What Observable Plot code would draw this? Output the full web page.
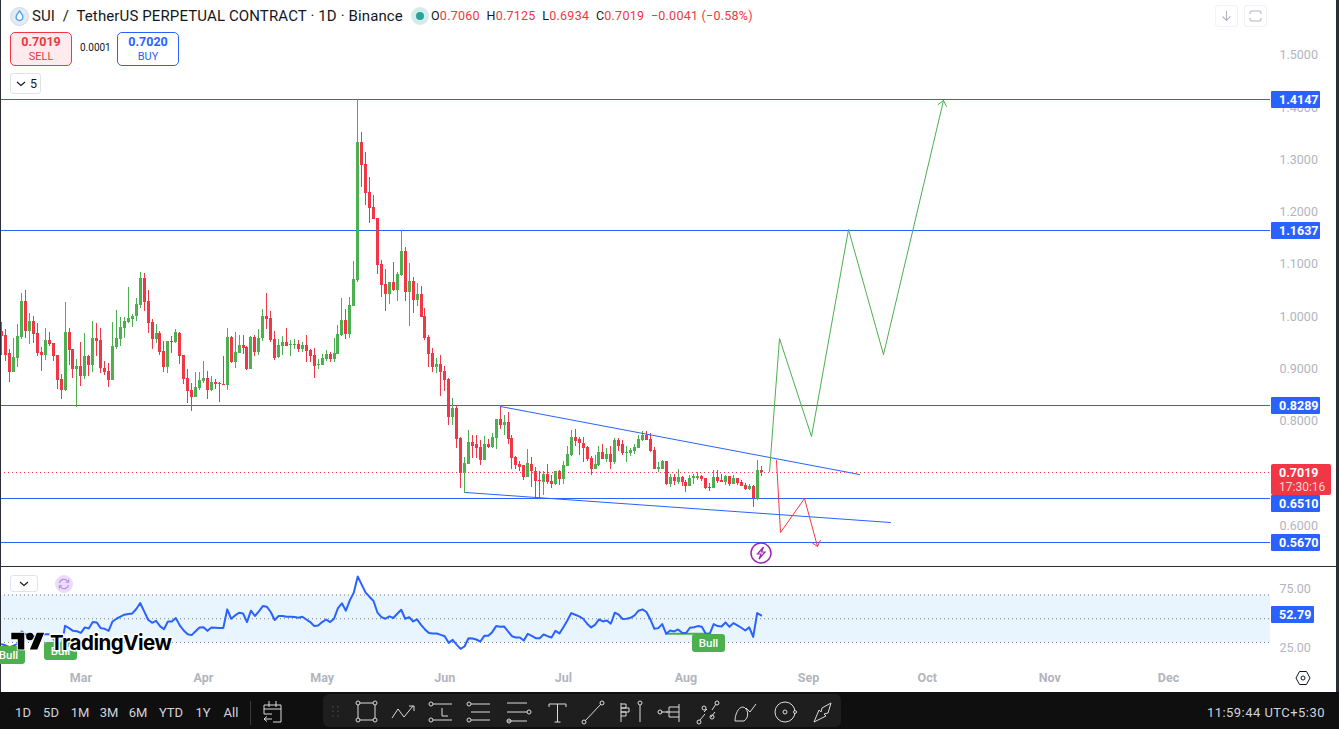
<!DOCTYPE html>
<html><head><meta charset="utf-8">
<script src="https://cdn.jsdelivr.net/npm/d3@7"></script>
<script src="https://cdn.jsdelivr.net/npm/@observablehq/plot@0.6"></script>
<style>
html,body{margin:0;padding:0;background:#fff;}
#app{position:relative;width:1339px;height:729px;overflow:hidden;font-family:Roboto,sans-serif;color:#131722;}
#app>svg,#app .abs{position:absolute;}
.abs{white-space:nowrap;line-height:1;}
.tag{color:#fff;font-weight:700;font-size:12.5px;text-align:left;padding-left:8px;box-sizing:border-box;border-radius:1px;}
.bull{background:#4caf50;color:#fff;border-radius:3px;font-size:11.5px;font-weight:500;text-align:center;}
</style></head><body><div id="app"></div>
<script>
const opens=[.971,.963,.928,.892,.919,.959,1.028,.970,.991,.967,.930,.926,.953,.948,.925,.879,.858,.969,.936,.898,.904,.884,.923,.905,.957,.953,.900,.894,.877,.940,.955,.976,.988,.993,.999,1.020,1.072,1.028,.988,.955,.967,.932,.902,.951,.949,.967,.925,.881,.858,.844,.861,.875,.881,.858,.873,.871,.870,.867,.959,.911,.928,.944,.940,.898,.959,.930,.957,.999,.996,.955,.921,.942,.950,.944,.944,.946,.936,.944,.934,.925,.906,.906,.917,.927,.917,.927,.963,.992,.965,1.018,1.068,1.332,1.290,1.236,1.208,1.187,1.099,1.061,1.041,1.064,1.049,1.078,1.124,1.045,1.066,1.030,1.041,.999,.959,.929,.902,.908,.894,.879,.806,.823,.766,.699,.716,.758,.754,.749,.724,.754,.749,.766,.802,.791,.796,.766,.730,.716,.714,.691,.716,.703,.686,.682,.697,.684,.678,.703,.687,.712,.733,.768,.764,.756,.749,.728,.708,.714,.739,.726,.735,.720,.762,.754,.737,.737,.741,.747,.762,.773,.764,.743,.708,.708,.722,.678,.691,.682,.691,.682,.674,.689,.689,.693,.689,.672,.670,.691,.686,.682,.693,.678,.689,.682,.676,.668,.674,.649,.7060];
const highs=[.988,.974,.936,.957,.984,1.043,1.049,1.005,.999,.986,.940,.976,.969,.948,.926,.888,1.026,.976,.936,.917,.949,.967,.926,.991,.986,.976,.913,.909,.988,1.011,.997,.997,1.055,1.003,1.034,1.083,1.081,1.049,.993,.984,.970,.951,.951,.961,.974,.969,.925,.898,.871,.892,.892,.913,.894,.884,.879,.873,.923,.976,.961,.969,.963,.963,.942,.961,.963,.974,1.013,1.043,1.009,.971,.955,.961,.976,.953,.955,.953,.950,.963,.936,.938,.917,.927,.934,.930,.957,.982,1.034,1.013,1.036,1.104,1.4147,1.351,1.313,1.265,1.231,1.187,1.106,1.089,1.064,1.102,1.083,1.1637,1.131,1.101,1.074,1.062,1.057,1.015,.963,.938,.919,.925,.904,.881,.843,.829,.768,.730,.781,.773,.772,.762,.770,.764,.775,.802,.829,.810,.817,.772,.731,.722,.714,.745,.730,.710,.703,.703,.716,.695,.703,.705,.722,.752,.781,.783,.768,.768,.752,.731,.733,.752,.754,.747,.751,.766,.766,.762,.751,.747,.754,.773,.779,.779,.775,.749,.720,.724,.722,.697,.697,.707,.693,.686,.695,.697,.701,.695,.689,.680,.705,.705,.697,.695,.693,.695,.689,.686,.680,.678,.676,.724,.7125];
const lows=[.925,.913,.873,.892,.902,.955,.957,.946,.948,.923,.894,.915,.942,.913,.860,.840,.856,.905,.881,.825,.865,.879,.884,.892,.923,.890,.886,.863,.877,.936,.942,.957,.986,.978,.991,1.014,1.009,.967,.936,.948,.925,.892,.890,.928,.948,.907,.869,.833,.818,.844,.858,.872,.840,.856,.860,.835,.867,.858,.909,.900,.928,.927,.896,.898,.923,.925,.951,.974,.950,.915,.919,.925,.942,.923,.936,.930,.930,.911,.911,.881,.898,.906,.913,.911,.911,.927,.961,.955,.957,1.018,1.064,1.246,1.211,1.177,1.185,1.080,1.036,1.009,1.022,1.047,1.028,1.076,1.028,.980,1.005,1.018,.997,.953,.902,.892,.890,.846,.856,.791,.791,.747,.670,.661,.716,.728,.728,.714,.724,.747,.747,.745,.783,.772,.754,.707,.707,.703,.686,.691,.672,.651,.649,.657,.678,.670,.676,.676,.678,.712,.731,.752,.733,.720,.722,.695,.708,.712,.726,.720,.707,.716,.741,.733,.720,.731,.735,.747,.760,.762,.739,.707,.701,.708,.676,.672,.676,.678,.674,.663,.674,.678,.686,.684,.668,.665,.670,.680,.682,.676,.674,.678,.676,.674,.666,.666,.634,.647,.6934];
const closes=[.961,.926,.892,.921,.961,1.028,.970,.991,.965,.928,.926,.953,.946,.923,.877,.858,.969,.934,.898,.904,.884,.923,.905,.957,.951,.900,.892,.877,.942,.957,.978,.990,.995,.999,1.022,1.072,1.026,.986,.955,.967,.930,.902,.951,.949,.969,.923,.879,.856,.844,.863,.877,.881,.858,.873,.869,.869,.868,.959,.911,.930,.944,.939,.898,.959,.930,.957,.999,.994,.953,.919,.944,.950,.942,.946,.946,.936,.944,.932,.923,.904,.908,.919,.927,.917,.929,.965,.992,.965,1.020,1.070,1.332,1.288,1.234,1.206,1.185,1.097,1.059,1.041,1.064,1.049,1.080,1.124,1.045,1.066,1.030,1.041,.997,.957,.927,.902,.908,.892,.877,.806,.823,.764,.699,.718,.758,.752,.747,.724,.754,.749,.768,.802,.791,.796,.764,.728,.714,.710,.691,.718,.703,.684,.684,.697,.682,.678,.703,.687,.714,.735,.768,.760,.756,.747,.726,.708,.716,.739,.726,.735,.720,.762,.752,.737,.739,.743,.749,.764,.772,.762,.741,.708,.710,.722,.678,.691,.684,.691,.682,.674,.689,.693,.693,.687,.670,.670,.691,.684,.682,.693,.678,.689,.680,.674,.668,.674,.651,.706,.7019];
const rsiValues=[28.5,27.4,26,27.4,28.8,39.3,37,36.4,35.3,34.7,35.9,37,37,33.6,27.4,24.6,44.1,42.1,39.8,39.5,38.1,42.7,41.8,47.2,46.9,42.1,41.5,39.8,47.7,50,51.7,53.4,54,54.5,58.2,63.3,56.2,49.2,46.6,48.3,43.8,41.2,47.7,47.7,50.6,44.4,40.1,37,36.2,39.5,42.7,42.9,39.8,42.7,42.4,42.1,42.1,57.9,50,52.8,55.1,54.5,47.2,56.8,52.3,56.2,60.7,60.2,55.7,48.9,52.3,52.3,51.7,51.7,51.4,50.8,51.7,49.4,47.2,43.8,44.4,47.2,49.4,47.2,50,59,63,56.8,65.5,72,85.6,78.8,72,68.4,65,55.1,51.4,50,52,50.6,54.2,57.6,50,51.4,47.7,49.4,44.9,41,37.9,37.6,37.6,36.4,35.3,29.7,32.2,28.2,24.6,26.6,33.6,33.3,32.5,30.8,35.6,35.6,38.7,43.8,43.2,43.5,39.3,35.3,34.2,34.2,31.6,37.3,35.6,33.6,33.6,36.7,35.3,34.2,39.8,37.6,42.9,48.6,54.8,53.4,52,50,45.8,42.7,44.9,49.4,47.7,48.6,45.8,55.1,53.4,49.7,50,50.8,52.8,56.8,57.9,55.7,49.4,41.5,42.1,45.5,37.3,40.1,39.3,41,38.1,37.9,42.4,42.9,43.8,43.2,37.3,37.3,45.5,43.8,43.5,46.9,43.2,46.3,44.4,42.4,40.1,42.7,34.7,54.8,52.79];
const levels=[1.4147,1.1637,.8289,.651,.567];
const priceTicks=[1.5,1.4,1.3,1.2,1.1,1.0,.9,.8,.7,.6];
const rsiTicks=[25,75];
const rsiGuides=[30,50,70];
const monthStarts=["2024-03-01","2024-04-01","2024-05-01","2024-06-01","2024-07-01","2024-08-01","2024-09-01","2024-10-01","2024-11-01","2024-12-01"].map(s=>new Date(s));
const firstDay=new Date("2024-02-10");
const dayAt=i=>new Date(+firstDay+i*864e5);
const visibleDays=[-0.329,320.8];
// drawn studies: [day index, price]
const channelTop=[[126.1,.827],[216.9,.697]];
const channelBottom=[[117.2,.6625],[224.7,.605]];
const greenPath=[[194,.7027],[196.6,.957],[204.7,.7696],[214.1,1.1654],[223,.9264],[238.1,1.412]];
const redPath=[[195.9,.7237],[196.9,.586],[203,.651],[206.2,.5593]];
const divergence=[[168,37.3],[179,37.3]];

const UP="#4caf50",DOWN="#f23645",BLUE="#2962ff",GREY="#b2b5be";
const candles=opens.map((o,i)=>({date:dayAt(i),open:o,high:highs[i],low:lows[i],close:closes[i]}));
const ups=candles.filter(d=>d.close>=d.open),downs=candles.filter(d=>d.close<d.open);
const pts=a=>a.map(([i,v])=>({date:dayAt(i),v}));
const xScale={type:"utc",domain:visibleDays.map(dayAt),range:[0,1270]};
const [xStart,xEnd]=visibleDays.map(dayAt);
const app=document.getElementById("app");
const fontStyle={fontFamily:"Roboto,sans-serif",fontSize:"12.5px",background:"transparent"};

const chart=Plot.plot({
  width:1339,height:566,marginLeft:0,marginRight:69,marginTop:0,marginBottom:0,
  style:fontStyle,
  x:{...xScale,axis:null,round:true},
  y:{domain:[.6,1.5],range:[525,54.3],label:null,round:true},
  marks:[
    Plot.axisY(priceTicks,{anchor:"right",tickSize:0,tickPadding:9,tickFormat:d3.format(".4f"),color:GREY,label:null}),
    Plot.ruleY([closes[closes.length-1]],{x1:xStart,x2:xEnd,stroke:DOWN,strokeWidth:1,strokeDasharray:"1 3"}),
    Plot.ruleY(levels,{x1:xStart,x2:xEnd,stroke:BLUE,strokeWidth:1}),
    Plot.ruleX(ups,{x:"date",y1:"low",y2:"high",stroke:UP,strokeWidth:1}),
    Plot.ruleX(downs,{x:"date",y1:"low",y2:"high",stroke:DOWN,strokeWidth:1}),
    Plot.ruleX(ups,{x:"date",y1:"open",y2:"close",stroke:UP,strokeWidth:3}),
    Plot.ruleX(downs,{x:"date",y1:"open",y2:"close",stroke:DOWN,strokeWidth:3}),
    Plot.line(pts(channelTop),{x:"date",y:"v",stroke:BLUE,strokeWidth:1}),
    Plot.line(pts(channelBottom),{x:"date",y:"v",stroke:BLUE,strokeWidth:1}),
    Plot.line(pts(greenPath.slice(0,-1)),{x:"date",y:"v",stroke:UP,strokeWidth:1}),
    Plot.line(pts(redPath.slice(0,-1)),{x:"date",y:"v",stroke:DOWN,strokeWidth:1}),
    Plot.arrow([pts(greenPath.slice(-2))],{x1:d=>d[0].date,y1:d=>d[0].v,x2:d=>d[1].date,y2:d=>d[1].v,stroke:UP,strokeWidth:1,headLength:10,headAngle:80,bend:false}),
    Plot.arrow([pts(redPath.slice(-2))],{x1:d=>d[0].date,y1:d=>d[0].v,x2:d=>d[1].date,y2:d=>d[1].v,stroke:DOWN,strokeWidth:1,headLength:10,headAngle:80,bend:false})
  ]
});
chart.style.left="0";chart.style.top="0";
app.append(chart);

const rsiPane=Plot.plot({
  width:1339,height:125,marginLeft:0,marginRight:69,marginTop:0,marginBottom:24,
  style:fontStyle,
  x:xScale,
  y:{domain:[25,75],range:[80.9,21.6],label:null},
  marks:[
    Plot.rect([rsiGuides],{y1:30,y2:70,x1:xStart,x2:xEnd,fill:"#2196f3",fillOpacity:.1}),
    Plot.ruleY(rsiGuides,{x1:xStart,x2:xEnd,stroke:"#787b86",strokeWidth:1,strokeDasharray:"1 3"}),
    Plot.axisY(rsiTicks,{anchor:"right",tickSize:0,tickPadding:9,tickFormat:d3.format(".2f"),color:GREY,label:null}),
    Plot.axisX(monthStarts,{anchor:"bottom",tickSize:0,tickPadding:5,tickFormat:d3.utcFormat("%b"),color:GREY,label:null,fontWeight:700}),
    Plot.line(pts(divergence),{x:"date",y:"v",stroke:UP,strokeWidth:2}),
    Plot.line(rsiValues.map((v,i)=>({date:dayAt(i),v})),{x:"date",y:"v",stroke:BLUE,strokeWidth:2,curve:"linear"})
  ]
});
rsiPane.style.left="0";rsiPane.style.top="567px";
app.append(rsiPane);

function el(html){const t=document.createElement("div");t.innerHTML=html;const e=t.firstElementChild;app.append(e);return e;}
function box(x,y,w,h,css,inner=""){return el(`<div class="abs" style="left:${x}px;top:${y}px;width:${w}px;height:${h}px;${css}">${inner}</div>`);}
function txt(x,cy,s,css=""){return el(`<div class="abs" style="left:${x}px;top:${cy}px;transform:translateY(-50%);${css}">${s}</div>`);}

// price tags on the scales (the last-price tag pushes the next level tag below it)
const py=chart.scale("y"),ry=rsiPane.scale("y"),px=chart.scale("x");
const fmt4=d3.format(".4f");
const last=closes[closes.length-1];
const lastTagTop=py.apply(last)-8,lastTagBottom=lastTagTop+31;
levels.forEach(v=>{const top=Math.max(py.apply(v)-8.5,(v<last&&py.apply(v)-8.5<lastTagBottom)?lastTagBottom:-1);
  box(1271,top,49,17,`background:${BLUE};border-radius:1px;`,`<div class="tag" style="line-height:17px">${fmt4(v)}</div>`);});
box(1271,lastTagTop,60,31,`background:${DOWN};border-radius:2px;`,`<div class="tag" style="line-height:17px">${fmt4(last)}</div><div class="tag" style="line-height:13px;font-weight:400;font-size:12px;color:#ffd4d9;">17:30:16</div>`);
const rlast=rsiValues[rsiValues.length-1];
box(1271,567+ry.apply(rlast)-8.5,43,17,`background:${BLUE};border-radius:1px;`,`<div class="tag" style="line-height:17px">${rlast.toFixed(2)}</div>`);

// borders
box(0,0,1,692,"background:#2a2e39");
box(0,566,1336,1,"background:#2a2e39");
box(1336,0,3,692,"background:#2a2e39");

// Bull tags (centered on the signal bar)
const bullTags=[[2,646,18],[15,642,18],[179,634,18]];
bullTags.forEach(([i,y,h])=>{const cx=px.apply(dayAt(i));box(cx-17,y,33,h,"",`<div class="bull" style="height:${h}px;line-height:${h}px">Bull</div>`);});

// logo
el(`<svg class="abs" style="position:absolute;left:11px;top:629px;overflow:visible" width="34" height="26" viewBox="0 0 36 28"><path d="M14 22H7V11H0V4h14v18zM28 22h-8l7.5-18h8L28 22z" fill="#000" stroke="#fff" stroke-width="2" paint-order="stroke"/><circle cx="20" cy="8" r="4" fill="#000"/></svg>`);
txt(50,643,"TradingView","font-family:Inter,sans-serif;font-weight:700;font-size:20.5px;letter-spacing:-.5px;color:#000;-webkit-text-stroke:3px #fff;paint-order:stroke fill;");

// header
el(`<svg class="abs" style="position:absolute;left:9.500px;top:7px" width="19" height="19" viewBox="0 0 19 19"><circle cx="9.500" cy="9.500" r="9" fill="#e3eaf2" stroke="#c9d3de" stroke-width=".8"/><path d="M9.500 4c2 2.500 3.400 4 3.400 6.100a3.400 3.400 0 0 1-6.800 0C6.100 8 7.500 6.500 9.500 4z" fill="#fff" stroke="#4da2ff" stroke-width="1.300"/></svg>`);
txt(32,16,"SUI&nbsp; /&nbsp; TetherUS PERPETUAL CONTRACT · 1D · Binance","font-size:15px;color:#131722;letter-spacing:.12px;");
box(411,7,18,18,"background:rgba(38,166,154,.2);border-radius:50%");
box(416,12,8,8,"background:#26a69a;border-radius:50%");
txt(431,16,`O<span style="color:${DOWN}">0.7060</span>&nbsp; H<span style="color:${DOWN}">0.7125</span>&nbsp; L<span style="color:${DOWN}">0.6934</span>&nbsp; C<span style="color:${DOWN}">0.7019</span>&nbsp; <span style="color:${DOWN}">−0.0041 (−0.58%)</span>`,"font-size:12.5px;letter-spacing:.25px;");

box(10,32,62,34,`background:#ffeaed;border:1px solid ${DOWN};border-radius:5px;box-sizing:border-box;`);
txt(10,42,"0.7019",`width:62px;text-align:center;color:${DOWN};font-weight:700;font-size:12.5px;`);
txt(10,56,"SELL",`width:62px;text-align:center;color:${DOWN};font-size:11px;`);
txt(80,48,"0.0001","font-size:10px;color:#131722;");
box(117,32,62,34,`background:#fff;border:1px solid ${BLUE};border-radius:5px;box-sizing:border-box;`);
txt(117,42,"0.7020",`width:62px;text-align:center;color:${BLUE};font-weight:700;font-size:12.5px;`);
txt(117,56,"BUY",`width:62px;text-align:center;color:${BLUE};font-size:11px;`);
box(10,73,31,21,"border:1px solid #e0e3eb;border-radius:3px;box-sizing:border-box;background:#fff");
txt(30,83.5,"5","font-size:12.5px;");
const chev=(x,y)=>`<svg class="abs" style="position:absolute;left:${x}px;top:${y}px" width="10" height="6"><path d="M1 1l4 3.500 4-3.500" fill="none" stroke="#131722" stroke-width="1.100"/></svg>`;
el(chev(16,81));
box(10,575,28,17,"border:1px solid #e0e3eb;border-radius:3px;box-sizing:border-box;background:#fff");
el(chev(19,581));
// refresh badge
el(`<svg class="abs" style="position:absolute;left:55px;top:575px" width="18" height="18" viewBox="0 0 18 18"><circle cx="9" cy="9" r="9" fill="#ebdcfa"/><path d="M4.500 8a4.500 4.500 0 0 1 8-2l1 1.200M13.500 10a4.500 4.500 0 0 1-8 2l-1-1.200M13.600 4.500v2.800h-2.800M4.400 13.500v-2.800h2.800" fill="none" stroke="#b388ee" stroke-width="1.100"/></svg>`);
// top-right buttons
el(`<svg class="abs" style="position:absolute;left:1215px;top:5px" width="54" height="22" fill="none" stroke="#b2b5be" stroke-width="1.100"><rect x=".5" y=".5" width="22" height="21" rx="3" stroke="#f0f3fa"/><rect x="29.500" y=".5" width="22" height="21" rx="3" stroke="#f0f3fa"/><path d="M11.500 6v9M7.500 11.500l4 4 4-4M35 9V7.500a1.500 1.500 0 0 1 1.500-1.500h8a1.500 1.500 0 0 1 1.500 1.500V9M46 13v1.500a1.500 1.500 0 0 1-1.500 1.500h-8a1.500 1.500 0 0 1-1.500-1.500V13"/></svg>`);
// lightning
el(`<svg class="abs" style="position:absolute;left:750px;top:542px" width="22" height="22" viewBox="0 0 22 22"><circle cx="11" cy="11" r="10" fill="#fff" stroke="#9c27b0" stroke-width="1.500"/><path d="M13.500 5L7.500 12h3.500l-2 5 6-7h-3.500z" fill="none" stroke="#9c27b0" stroke-width="1.200"/></svg>`);
// settings hexagon
el(`<svg class="abs" style="position:absolute;left:1295px;top:670px" width="16" height="16" viewBox="0 0 16 16" fill="none" stroke="#131722"><path d="M4.500 1.500h7L15 8l-3.500 6.500h-7L1 8z"/><circle cx="8" cy="8" r="2"/></svg>`);

// bottom bar
box(0,692,1339,37,"background:#0f0f0f");
const ranges=[["1D",23],["5D",51],["1M",80],["3M",109],["6M",138],["YTD",171],["1Y",203],["All",231]];
ranges.forEach(([s,x])=>txt(x-20,712,s,"width:40px;text-align:center;font-size:13px;color:#d1d4dc;"));
box(250,701,1,24,"background:#3a3a3a");
const tools=`<svg class="abs" style="position:absolute;left:0;top:692px" width="1339" height="37" fill="none" stroke="#dbdbdb" stroke-width="1">
<rect x="323" y="2" width="518" height="33" rx="6" fill="#1e1e1e" stroke="none"/>
<g stroke-dasharray="1.500 3" stroke="#555"><path d="M333 14v12M338 14v12"/></g>
<path d="M264 13h17v17h-8M264 22h8M264 13v9M269 9v6M276 9v6M264 17h17M272 27h-8M267 24.500l-3 2.500 3 2.500"/>
<g id="r"><rect x="358" y="11" width="17" height="17"/><circle cx="358" cy="11" r="2" fill="#1e1e1e"/><circle cx="375" cy="11" r="2" fill="#1e1e1e"/><circle cx="358" cy="28" r="2" fill="#1e1e1e"/><circle cx="375" cy="28" r="2" fill="#1e1e1e"/></g>
<path d="M392 26l6-9 6 8 9-11M409 14h5v5"/>
<path d="M433 12h19M433 28h19M442 16v8h6"/><circle cx="431" cy="12" r="2"/><circle cx="431" cy="28" r="2"/>
<path d="M471 12h19M471 20h19M471 28h19"/><circle cx="469" cy="12" r="2"/><circle cx="469" cy="28" r="2"/>
<path d="M507 11h20M507 20h20M507 29h20"/><circle cx="529" cy="20" r="2"/><circle cx="509" cy="29" r="2"/>
<path d="M549 12v3M549 12h17v3M557.500 12v18M554.500 30h6"/>
<path d="M585 29l16-17"/><circle cx="584" cy="30" r="2"/><circle cx="602" cy="11" r="2"/>
<path d="M621 11v19M621 12h5v4h-5M621 16h8v4h-8M621 20h5v4h-5M640 13v17"/><circle cx="640" cy="11" r="2"/>
<path d="M661 20h7M669 15h10M666 20h13M669 25h10M679 12v18M669 15v10"/><circle cx="660" cy="20" r="2"/>
<path d="M700 28l5-6M712 18l4-6"/><circle cx="699" cy="30" r="2"/><circle cx="717" cy="11" r="2"/><path d="M704 20l3-3M711 25l4-5"/><circle cx="712" cy="25" r="2"/><circle cx="704" cy="16" r="2"/>
<path d="M735 29h9c6-4 4-13-1-14-5 0-8 8-8 14zM746 16l4 4 6-8"/>
<circle cx="785" cy="20" r="10"/><circle cx="785" cy="20" r="2"/><circle cx="795" cy="20" r="1.500" fill="#1e1e1e"/>
<path d="M814 30l5-12 2 2 1-4 9-5-3 10-4 1 2 2z"/>
</svg>`;
el(tools);
txt(1207,712,"11:59:44 UTC+5:30","font-size:13px;color:#d1d4dc;letter-spacing:.45px;");
</script></body></html>
